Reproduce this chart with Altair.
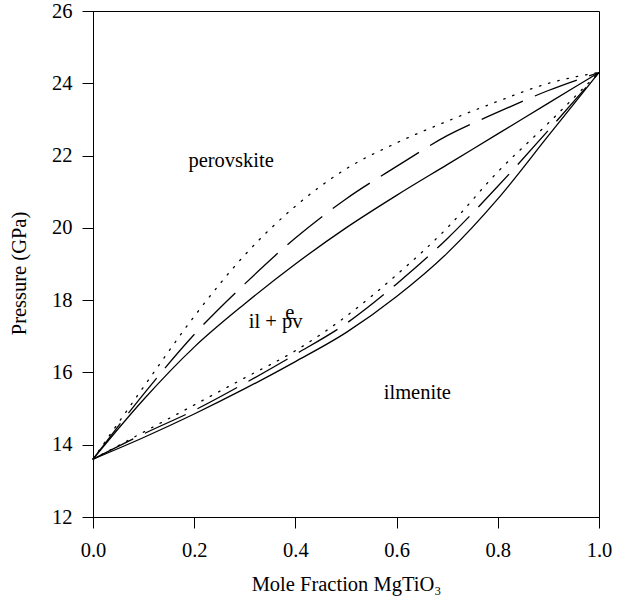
import altair as alt
import pandas as pd

x_vals = [0.0, 0.1, 0.2, 0.3, 0.4, 0.5, 0.6, 0.7, 0.8, 0.9, 1.0]

# Upper (perovskite) boundaries
pv_solid = [13.6, 15.25, 16.7, 17.9, 19.0, 20.0, 20.9, 21.75, 22.6, 23.45, 24.3]
pv_dash = [13.6, 15.4, 17.05, 18.45, 19.72, 20.8, 21.7, 22.55, 23.2, 23.8, 24.3]
pv_dot = [13.6, 15.6, 17.55, 19.25, 20.6, 21.63, 22.35, 22.95, 23.5, 24.0, 24.3]

# Lower (ilmenite) boundaries
il_solid = [13.6, 14.2, 14.85, 15.55, 16.3, 17.1, 18.1, 19.3, 20.8, 22.55, 24.3]
il_dash = [13.6, 14.3, 14.95, 15.7, 16.5, 17.35, 18.45, 19.7, 21.15, 22.7, 24.3]
il_dot = [13.6, 14.35, 15.1, 15.85, 16.6, 17.55, 18.7, 20.0, 21.55, 22.9, 24.3]

label_text = ["perovskite", "il + pv", "e", "ilmenite"]
label_x = [0.273, 0.308, 0.389, 0.641]
label_y = [21.68, 17.24, 17.48, 15.26]
label_align = ["center", "left", "center", "center"]

FONT = "Liberation Serif"
FS = 20.5

xscale = alt.Scale(domain=[0, 1], nice=False, zero=False)
yscale = alt.Scale(domain=[12, 26], nice=False, zero=False)


def curve(yvals, dash, first=False):
    df = pd.DataFrame({"x": x_vals, "y": yvals})
    kw = {}
    if dash is not None:
        kw["strokeDash"] = dash
    if dash == [1.5, 8]:
        kw["strokeCap"] = "round"
    xenc = alt.X("x:Q", scale=xscale)
    yenc = alt.Y("y:Q", scale=yscale)
    if first:
        xenc = alt.X(
            "x:Q", scale=xscale,
            axis=alt.Axis(values=[0, 0.2, 0.4, 0.6, 0.8, 1.0], format=".1f",
                          labelFlush=False,
                          title="Mole Fraction MgTiO\u2083", titlePadding=14),
        )
        yenc = alt.Y(
            "y:Q", scale=yscale,
            axis=alt.Axis(values=[12, 14, 16, 18, 20, 22, 24, 26], format="d",
                          labelFlush=False,
                          title="Pressure (GPa)", titlePadding=22, titleY=262),
        )
    return alt.Chart(df).mark_line(
        color="black", strokeWidth=1.3, interpolate="monotone", **kw
    ).encode(x=xenc, y=yenc)


layers = [
    curve(pv_solid, None, first=True),
    curve(pv_dash, [45, 13]),
    curve(pv_dot, [1.5, 8]),
    curve(il_solid, None),
    curve(il_dash, [45, 13]),
    curve(il_dot, [1.5, 8]),
]

texts = []
for t, xx, yy, al in zip(label_text, label_x, label_y, label_align):
    d = pd.DataFrame({"x": [xx], "y": [yy], "t": [t]})
    texts.append(
        alt.Chart(d).mark_text(
            font=FONT, fontSize=FS, color="black", align=al, baseline="alphabetic"
        ).encode(x=alt.X("x:Q", scale=xscale), y=alt.Y("y:Q", scale=yscale), text="t:N")
    )

chart = alt.layer(*layers, *texts).properties(
    width=506,
    height=506,
    background="white",
    autosize=alt.AutoSizeParams(type="none"),
    padding={"left": 93, "top": 11, "right": 26, "bottom": 91},
).configure_view(
    stroke="black", strokeWidth=1
).configure_text(
    font=FONT
).configure_axis(
    grid=False,
    domainColor="black",
    domainWidth=1,
    tickColor="black",
    tickSize=11,
    tickWidth=1,
    labelFont=FONT,
    labelFontSize=FS,
    labelColor="black",
    titleFont=FONT,
    titleFontSize=FS,
    titleFontWeight="normal",
    titleColor="black",
    labelPadding=10,
).configure_axisX(
    labelPadding=12,
)

chart.save("out.html", embed_options={"renderer": "svg", "actions": False})
